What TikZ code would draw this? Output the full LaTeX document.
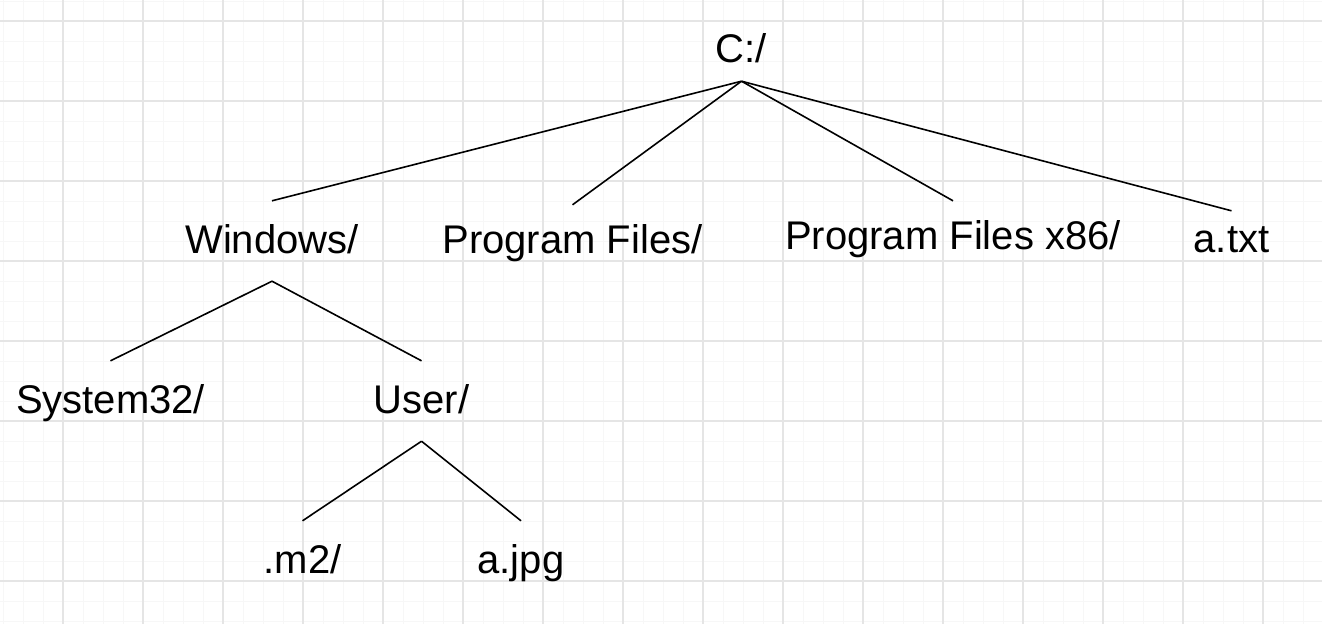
\documentclass[tikz,border=0pt]{standalone}
\usepackage{fontspec}
\setmainfont{Liberation Sans}
\usetikzlibrary{positioning}
\definecolor{gridmajor}{HTML}{E5E5E5}
\definecolor{gridminor}{HTML}{F7F7F7}

\begin{document}
\begin{tikzpicture}[
    x=1pt, y=-1pt,
    dir/.style={anchor=base, inner xsep=0pt, inner ysep=24pt, text height=28pt, text depth=4pt, font=\fontsize{40}{48}\selectfont},
    edge/.style={line width=1.6pt},
    minorgrid/.style={gridminor, line width=1pt},
    majorgrid/.style={gridmajor, line width=1.2pt},
  ]
    \fill[white] (0,0) rectangle (1322,624);
    \useasboundingbox (0,0) rectangle (1322,624);
    % grid paper
    \foreach \x in {3,23,...,1322} \draw[minorgrid] (\x,0) -- (\x,624);
    \foreach \y in {1,21,...,624} \draw[minorgrid] (0,\y) -- (1322,\y);
    \foreach \x in {63,143,...,1322} \draw[majorgrid] (\x,0) -- (\x,624);
    \foreach \y in {21,101,...,624} \draw[majorgrid] (0,\y) -- (1322,\y);

    % folders and files
    \node[dir] (root) at (741.5,62) {C:/};
    \node[dir] (win) at (272,253) {Windows/};
    \node[dir] (pf) at (572.5,253) {Program Files/};
    \node[dir] (pfx) at (953,249) {Program Files x86/};
    \node[dir] (atxt) at (1231.5,252) {a.txt};
    \node[dir] (sys) at (110.5,413) {System32/};
    \node[dir] (user) at (421.5,413) {User/};
    \node[dir] (mtwo) at (302.5,573) {.m2/};
    \node[dir] (ajpg) at (521,573) {a.jpg};

    % tree edges
    \draw[edge] ([yshift=9pt]root.south) -- (win.north);
    \draw[edge] ([yshift=9pt]root.south) -- ([yshift=-4pt]pf.north);
    \draw[edge] ([yshift=9pt]root.south) -- ([yshift=-4pt]pfx.north);
    \draw[edge] ([yshift=9pt]root.south) -- ([yshift=-11pt]atxt.north);
    \draw[edge] (win.south) -- (sys.north);
    \draw[edge] (win.south) -- (user.north);
    \draw[edge] (user.south) -- (mtwo.north);
    \draw[edge] (user.south) -- (ajpg.north);
  \end{tikzpicture}
\end{document}
